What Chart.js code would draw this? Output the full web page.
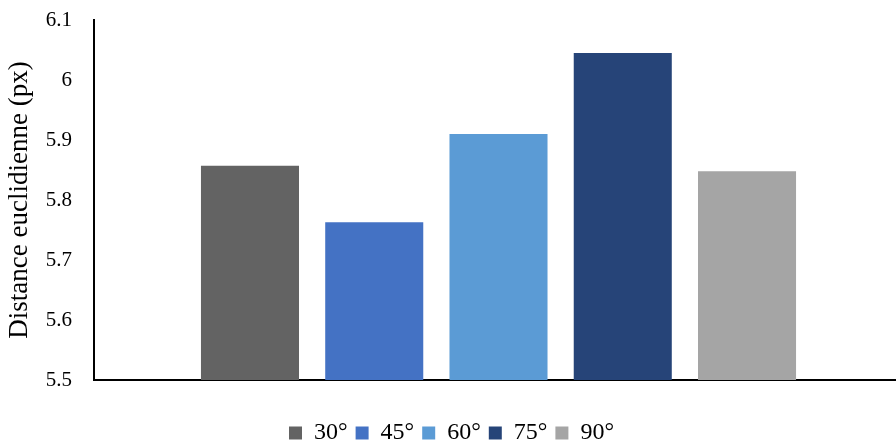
<!DOCTYPE html>
<html>
<head>
<meta charset="utf-8">
<script src="https://cdn.jsdelivr.net/npm/chart.js@4/dist/chart.umd.min.js"></script>
<style>
html,body{margin:0;padding:0;background:#fff;overflow:hidden;}
#wrap{width:896px;height:448px;position:relative;overflow:hidden;}
</style>
</head>
<body>
<div id="wrap"><canvas id="c" width="904" height="448"></canvas></div>
<script>
const categories = [''];
const seriesNames = ['30°', '45°', '60°', '75°', '90°'];
const seriesValues = [5.857, 5.763, 5.91, 6.045, 5.848];
const seriesColors = ['#636363', '#4472C4', '#5B9BD5', '#264478', '#A5A5A5'];
const yTickLabels = ['5.5', '5.6', '5.7', '5.8', '5.9', '6', '6.1'];
const yTitle = 'Distance euclidienne (px)';

const serif = "'Liberation Serif', 'Times New Roman', serif";

const datasets = seriesNames.map((n, i) => ({
  label: n,
  data: [seriesValues[i]],
  backgroundColor: seriesColors[i],
  borderWidth: 0,
  categoryPercentage: 0.768,
  barPercentage: 0.789
}));

new Chart(document.getElementById('c'), {
  type: 'bar',
  data: { labels: categories, datasets },
  options: {
    responsive: false,
    animation: false,
    devicePixelRatio: 1,
    layout: { padding: { top: 20, right: 1, left: 0, bottom: -7 } },
    plugins: {
      tooltip: { enabled: false },
      legend: {
        position: 'bottom',
        labels: {
          boxWidth: 13,
          boxHeight: 13,
          padding: 8,
          color: '#000',
          font: { family: serif, size: 24 }
        }
      }
    },
    scales: {
      x: {
        grid: { display: false, drawTicks: false },
        border: { display: true, color: '#000', width: 2 },
        ticks: { display: false },
        afterFit: s => { s.height = 33; }
      },
      y: {
        min: 5.5,
        max: 6.1,
        grid: { display: false, drawTicks: false },
        border: { display: true, color: '#000', width: 2 },
        ticks: {
          stepSize: 0.1,
          padding: 22,
          color: '#000',
          font: { family: serif, size: 21 },
          callback: (v, i) => yTickLabels[i]
        },
        title: {
          display: true,
          text: yTitle,
          color: '#000',
          font: { family: serif, size: 27 },
          padding: { top: 4, bottom: 0 }
        },
        afterFit: s => { s.width = 94; s.paddingTop = 0; s.paddingBottom = 0; }
      }
    }
  }
});
</script>
</body>
</html>
